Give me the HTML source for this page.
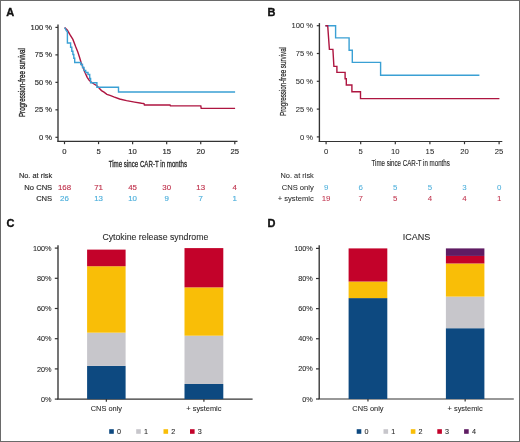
<!DOCTYPE html>
<html><head><meta charset="utf-8"><title>Figure</title>
<style>html,body{margin:0;padding:0;background:#fff;width:520px;height:442px;overflow:hidden}text{font-family:'Liberation Sans',sans-serif}</style>
</head><body>
<svg width="520" height="442" viewBox="0 0 520 442" style="display:block;will-change:transform;font-family:'Liberation Sans',sans-serif">
<rect x="0" y="0" width="520" height="442" fill="#fff"/>
<rect x="0.5" y="0.5" width="519" height="441" fill="none" stroke="#6a6a6a" stroke-width="1"/>
<text x="6.2" y="16.1" font-size="11" text-anchor="start" fill="#111" font-weight="bold" stroke="#111" stroke-width="0.35">A</text>
<text x="267.6" y="16.1" font-size="11" text-anchor="start" fill="#111" font-weight="bold" stroke="#111" stroke-width="0.35">B</text>
<text x="6.4" y="227.0" font-size="11" text-anchor="start" fill="#111" font-weight="bold" stroke="#111" stroke-width="0.35">C</text>
<text x="267.6" y="226.8" font-size="11" text-anchor="start" fill="#111" font-weight="bold" stroke="#111" stroke-width="0.35">D</text>
<path d="M58.0,24.6 V141.45" fill="none" stroke="#333333" stroke-width="1.35"/>
<path d="M57.25,141.45 H237.5" fill="none" stroke="#333333" stroke-width="1.2"/>
<path d="M55.4,27.40 H58.0" stroke="#333333" stroke-width="1.2"/>
<text x="52.0" y="30.00" font-size="7.6" text-anchor="end" fill="#2a2a2a" font-weight="normal" stroke="#2a2a2a" stroke-width="0.15">100 %</text>
<path d="M55.4,54.88 H58.0" stroke="#333333" stroke-width="1.2"/>
<text x="52.0" y="57.48" font-size="7.6" text-anchor="end" fill="#2a2a2a" font-weight="normal" stroke="#2a2a2a" stroke-width="0.15">75 %</text>
<path d="M55.4,82.35 H58.0" stroke="#333333" stroke-width="1.2"/>
<text x="52.0" y="84.95" font-size="7.6" text-anchor="end" fill="#2a2a2a" font-weight="normal" stroke="#2a2a2a" stroke-width="0.15">50 %</text>
<path d="M55.4,109.83 H58.0" stroke="#333333" stroke-width="1.2"/>
<text x="52.0" y="112.43" font-size="7.6" text-anchor="end" fill="#2a2a2a" font-weight="normal" stroke="#2a2a2a" stroke-width="0.15">25 %</text>
<path d="M55.4,137.30 H58.0" stroke="#333333" stroke-width="1.2"/>
<text x="52.0" y="139.90" font-size="7.6" text-anchor="end" fill="#2a2a2a" font-weight="normal" stroke="#2a2a2a" stroke-width="0.15">0 %</text>
<path d="M64.50,141.45 V144.14999999999998" stroke="#333333" stroke-width="1.2"/>
<text x="64.50" y="154.15" font-size="7.7" text-anchor="middle" fill="#2a2a2a" font-weight="normal" stroke="#2a2a2a" stroke-width="0.15">0</text>
<path d="M98.56,141.45 V144.14999999999998" stroke="#333333" stroke-width="1.2"/>
<text x="98.56" y="154.15" font-size="7.7" text-anchor="middle" fill="#2a2a2a" font-weight="normal" stroke="#2a2a2a" stroke-width="0.15">5</text>
<path d="M132.62,141.45 V144.14999999999998" stroke="#333333" stroke-width="1.2"/>
<text x="132.62" y="154.15" font-size="7.7" text-anchor="middle" fill="#2a2a2a" font-weight="normal" stroke="#2a2a2a" stroke-width="0.15">10</text>
<path d="M166.68,141.45 V144.14999999999998" stroke="#333333" stroke-width="1.2"/>
<text x="166.68" y="154.15" font-size="7.7" text-anchor="middle" fill="#2a2a2a" font-weight="normal" stroke="#2a2a2a" stroke-width="0.15">15</text>
<path d="M200.74,141.45 V144.14999999999998" stroke="#333333" stroke-width="1.2"/>
<text x="200.74" y="154.15" font-size="7.7" text-anchor="middle" fill="#2a2a2a" font-weight="normal" stroke="#2a2a2a" stroke-width="0.15">20</text>
<path d="M234.80,141.45 V144.14999999999998" stroke="#333333" stroke-width="1.2"/>
<text x="234.80" y="154.15" font-size="7.7" text-anchor="middle" fill="#2a2a2a" font-weight="normal" stroke="#2a2a2a" stroke-width="0.15">25</text>
<text x="147.85" y="166.60" font-size="8.9" text-anchor="middle" fill="#2a2a2a" font-weight="normal" stroke="#2a2a2a" stroke-width="0.3" textLength="78.3" lengthAdjust="spacingAndGlyphs">Time since CAR-T in months</text>
<text transform="translate(21.8,82.6) rotate(-90)" x="0" y="3.10" font-size="8.6" text-anchor="middle" fill="#2a2a2a" stroke="#2a2a2a" stroke-width="0.35" textLength="69" lengthAdjust="spacingAndGlyphs">Progression-free survival</text>
<path d="M64.60,27.60 L67.40,30.30 L70.10,34.90 L72.90,39.40 L75.60,46.60 L77.80,52.00 L79.60,57.50 L81.00,62.20 L82.60,66.50 L85.00,72.50 L87.20,77.30 L89.20,80.30 L91.30,82.20 L94.00,84.00 L97.20,86.00 L99.50,88.60 L101.50,90.60 L104.00,92.20 L106.90,94.30 L110.00,95.40 L113.80,96.90 L119.60,99.00 L126.50,100.60 L134.60,102.10 L141.50,103.30 L144.00,103.60 L144.40,105.00 L170.00,105.00 L170.40,105.90 L200.80,105.90 L201.20,108.40 L235.10,108.40" fill="none" stroke="#ae1540" stroke-width="1.4" stroke-linejoin="miter"/>
<path d="M64.70,27.60 L66.10,30.30 L67.00,31.50 L67.40,31.50 L67.40,43.00 L70.60,43.00 L70.60,47.20 L71.80,47.20 L71.80,51.20 L72.90,51.20 L72.90,54.50 L73.80,54.50 L73.80,58.20 L74.70,58.20 L74.70,62.50 L80.80,62.50 L80.80,64.50 L82.50,64.50 L82.50,67.50 L84.00,67.50 L84.00,70.50 L85.70,70.50 L85.70,72.50 L88.00,72.50 L88.00,74.50 L89.70,74.50 L89.70,78.50 L90.60,78.50 L90.60,82.80 L96.90,82.80 L96.90,87.30 L118.50,87.30 L118.50,92.00 L235.10,92.00" fill="none" stroke="#3aa0d4" stroke-width="1.4" stroke-linejoin="miter"/>
<text x="52.2" y="178.40" font-size="7.4" text-anchor="end" fill="#2a2a2a" font-weight="normal" stroke="#2a2a2a" stroke-width="0.15">No. at risk</text>
<text x="52.2" y="190.00" font-size="7.6" text-anchor="end" fill="#2a2a2a" font-weight="normal" stroke="#2a2a2a" stroke-width="0.15">No CNS</text>
<text x="64.50" y="189.60" font-size="7.9" text-anchor="middle" fill="#c0354f" font-weight="normal" stroke="#c0354f" stroke-width="0.15">168</text>
<text x="98.56" y="189.60" font-size="7.9" text-anchor="middle" fill="#c0354f" font-weight="normal" stroke="#c0354f" stroke-width="0.15">71</text>
<text x="132.62" y="189.60" font-size="7.9" text-anchor="middle" fill="#c0354f" font-weight="normal" stroke="#c0354f" stroke-width="0.15">45</text>
<text x="166.68" y="189.60" font-size="7.9" text-anchor="middle" fill="#c0354f" font-weight="normal" stroke="#c0354f" stroke-width="0.15">30</text>
<text x="200.74" y="189.60" font-size="7.9" text-anchor="middle" fill="#c0354f" font-weight="normal" stroke="#c0354f" stroke-width="0.15">13</text>
<text x="234.80" y="189.60" font-size="7.9" text-anchor="middle" fill="#c0354f" font-weight="normal" stroke="#c0354f" stroke-width="0.15">4</text>
<text x="52.2" y="200.90" font-size="7.6" text-anchor="end" fill="#2a2a2a" font-weight="normal" stroke="#2a2a2a" stroke-width="0.15">CNS</text>
<text x="64.50" y="200.50" font-size="7.9" text-anchor="middle" fill="#4fb0dc" font-weight="normal" stroke="#4fb0dc" stroke-width="0.15">26</text>
<text x="98.56" y="200.50" font-size="7.9" text-anchor="middle" fill="#4fb0dc" font-weight="normal" stroke="#4fb0dc" stroke-width="0.15">13</text>
<text x="132.62" y="200.50" font-size="7.9" text-anchor="middle" fill="#4fb0dc" font-weight="normal" stroke="#4fb0dc" stroke-width="0.15">10</text>
<text x="166.68" y="200.50" font-size="7.9" text-anchor="middle" fill="#4fb0dc" font-weight="normal" stroke="#4fb0dc" stroke-width="0.15">9</text>
<text x="200.74" y="200.50" font-size="7.9" text-anchor="middle" fill="#4fb0dc" font-weight="normal" stroke="#4fb0dc" stroke-width="0.15">7</text>
<text x="234.80" y="200.50" font-size="7.9" text-anchor="middle" fill="#4fb0dc" font-weight="normal" stroke="#4fb0dc" stroke-width="0.15">1</text>
<path d="M319.4,23.1 V141.5" fill="none" stroke="#333333" stroke-width="1.35"/>
<path d="M318.65,141.5 H502.3" fill="none" stroke="#333333" stroke-width="1.2"/>
<path d="M316.79999999999995,25.70 H319.4" stroke="#333333" stroke-width="1.2"/>
<text x="313.0" y="28.30" font-size="7.6" text-anchor="end" fill="#2a2a2a" font-weight="normal" stroke="#2a2a2a" stroke-width="0.06">100 %</text>
<path d="M316.79999999999995,53.50 H319.4" stroke="#333333" stroke-width="1.2"/>
<text x="313.0" y="56.10" font-size="7.6" text-anchor="end" fill="#2a2a2a" font-weight="normal" stroke="#2a2a2a" stroke-width="0.06">75 %</text>
<path d="M316.79999999999995,81.30 H319.4" stroke="#333333" stroke-width="1.2"/>
<text x="313.0" y="83.90" font-size="7.6" text-anchor="end" fill="#2a2a2a" font-weight="normal" stroke="#2a2a2a" stroke-width="0.06">50 %</text>
<path d="M316.79999999999995,109.10 H319.4" stroke="#333333" stroke-width="1.2"/>
<text x="313.0" y="111.70" font-size="7.6" text-anchor="end" fill="#2a2a2a" font-weight="normal" stroke="#2a2a2a" stroke-width="0.06">25 %</text>
<path d="M316.79999999999995,136.90 H319.4" stroke="#333333" stroke-width="1.2"/>
<text x="313.0" y="139.50" font-size="7.6" text-anchor="end" fill="#2a2a2a" font-weight="normal" stroke="#2a2a2a" stroke-width="0.06">0 %</text>
<path d="M326.10,141.5 V144.2" stroke="#333333" stroke-width="1.2"/>
<text x="326.10" y="154.20" font-size="7.7" text-anchor="middle" fill="#2a2a2a" font-weight="normal" stroke="#2a2a2a" stroke-width="0.06">0</text>
<path d="M360.70,141.5 V144.2" stroke="#333333" stroke-width="1.2"/>
<text x="360.70" y="154.20" font-size="7.7" text-anchor="middle" fill="#2a2a2a" font-weight="normal" stroke="#2a2a2a" stroke-width="0.06">5</text>
<path d="M395.30,141.5 V144.2" stroke="#333333" stroke-width="1.2"/>
<text x="395.30" y="154.20" font-size="7.7" text-anchor="middle" fill="#2a2a2a" font-weight="normal" stroke="#2a2a2a" stroke-width="0.06">10</text>
<path d="M429.90,141.5 V144.2" stroke="#333333" stroke-width="1.2"/>
<text x="429.90" y="154.20" font-size="7.7" text-anchor="middle" fill="#2a2a2a" font-weight="normal" stroke="#2a2a2a" stroke-width="0.06">15</text>
<path d="M464.50,141.5 V144.2" stroke="#333333" stroke-width="1.2"/>
<text x="464.50" y="154.20" font-size="7.7" text-anchor="middle" fill="#2a2a2a" font-weight="normal" stroke="#2a2a2a" stroke-width="0.06">20</text>
<path d="M499.10,141.5 V144.2" stroke="#333333" stroke-width="1.2"/>
<text x="499.10" y="154.20" font-size="7.7" text-anchor="middle" fill="#2a2a2a" font-weight="normal" stroke="#2a2a2a" stroke-width="0.06">25</text>
<text x="410.65" y="166.30" font-size="8.9" text-anchor="middle" fill="#2a2a2a" font-weight="normal" stroke="#2a2a2a" stroke-width="0.15" textLength="78.3" lengthAdjust="spacingAndGlyphs">Time since CAR-T in months</text>
<text transform="translate(283.0,81.5) rotate(-90)" x="0" y="2.95" font-size="8.2" text-anchor="middle" fill="#2a2a2a" stroke="#2a2a2a" stroke-width="0.22" textLength="69" lengthAdjust="spacingAndGlyphs">Progression-free survival</text>
<path d="M325.40,25.70 L335.60,25.70 L335.60,37.90 L349.10,37.90 L349.10,50.30 L352.30,50.30 L352.30,62.40 L380.60,62.40 L380.60,75.20 L479.40,75.20" fill="none" stroke="#3aa0d4" stroke-width="1.4" stroke-linejoin="miter"/>
<path d="M325.40,25.70 L327.70,25.70 L329.40,49.40 L332.90,49.40 L333.90,66.40 L336.90,66.40 L336.90,72.40 L345.10,72.40 L345.10,78.80 L346.30,78.80 L346.30,85.00 L351.90,85.00 L351.90,91.80 L360.50,91.80 L360.50,98.60 L499.40,98.60" fill="none" stroke="#ae1540" stroke-width="1.4" stroke-linejoin="miter"/>
<text x="313.8" y="178.40" font-size="7.4" text-anchor="end" fill="#2a2a2a" font-weight="normal" stroke="#2a2a2a" stroke-width="0.06">No. at risk</text>
<text x="313.8" y="189.90" font-size="7.6" text-anchor="end" fill="#2a2a2a" font-weight="normal" stroke="#2a2a2a" stroke-width="0.06">CNS only</text>
<text x="326.10" y="190.10" font-size="7.9" text-anchor="middle" fill="#4fb0dc" font-weight="normal" stroke="#4fb0dc" stroke-width="0.06">9</text>
<text x="360.70" y="190.10" font-size="7.9" text-anchor="middle" fill="#4fb0dc" font-weight="normal" stroke="#4fb0dc" stroke-width="0.06">6</text>
<text x="395.30" y="190.10" font-size="7.9" text-anchor="middle" fill="#4fb0dc" font-weight="normal" stroke="#4fb0dc" stroke-width="0.06">5</text>
<text x="429.90" y="190.10" font-size="7.9" text-anchor="middle" fill="#4fb0dc" font-weight="normal" stroke="#4fb0dc" stroke-width="0.06">5</text>
<text x="464.50" y="190.10" font-size="7.9" text-anchor="middle" fill="#4fb0dc" font-weight="normal" stroke="#4fb0dc" stroke-width="0.06">3</text>
<text x="499.10" y="190.10" font-size="7.9" text-anchor="middle" fill="#4fb0dc" font-weight="normal" stroke="#4fb0dc" stroke-width="0.06">0</text>
<text x="313.8" y="200.70" font-size="7.6" text-anchor="end" fill="#2a2a2a" font-weight="normal" stroke="#2a2a2a" stroke-width="0.06">+ systemic</text>
<text x="326.10" y="200.90" font-size="7.9" text-anchor="middle" fill="#c0354f" font-weight="normal" stroke="#c0354f" stroke-width="0.06">19</text>
<text x="360.70" y="200.90" font-size="7.9" text-anchor="middle" fill="#c0354f" font-weight="normal" stroke="#c0354f" stroke-width="0.06">7</text>
<text x="395.30" y="200.90" font-size="7.9" text-anchor="middle" fill="#c0354f" font-weight="normal" stroke="#c0354f" stroke-width="0.06">5</text>
<text x="429.90" y="200.90" font-size="7.9" text-anchor="middle" fill="#c0354f" font-weight="normal" stroke="#c0354f" stroke-width="0.06">4</text>
<text x="464.50" y="200.90" font-size="7.9" text-anchor="middle" fill="#c0354f" font-weight="normal" stroke="#c0354f" stroke-width="0.06">4</text>
<text x="499.10" y="200.90" font-size="7.9" text-anchor="middle" fill="#c0354f" font-weight="normal" stroke="#c0354f" stroke-width="0.06">1</text>
<path d="M58.0,245.3 V399.1" fill="none" stroke="#333333" stroke-width="1.35"/>
<path d="M57.25,399.1 H252.6" fill="none" stroke="#333333" stroke-width="1.2"/>
<path d="M54.8,399.10 H58.0" stroke="#333333" stroke-width="1.2"/>
<text x="51.6" y="401.70" font-size="7.3" text-anchor="end" fill="#2a2a2a" font-weight="normal" stroke="#2a2a2a" stroke-width="0.08">0%</text>
<path d="M54.8,368.90 H58.0" stroke="#333333" stroke-width="1.2"/>
<text x="51.6" y="371.50" font-size="7.3" text-anchor="end" fill="#2a2a2a" font-weight="normal" stroke="#2a2a2a" stroke-width="0.08">20%</text>
<path d="M54.8,338.70 H58.0" stroke="#333333" stroke-width="1.2"/>
<text x="51.6" y="341.30" font-size="7.3" text-anchor="end" fill="#2a2a2a" font-weight="normal" stroke="#2a2a2a" stroke-width="0.08">40%</text>
<path d="M54.8,308.50 H58.0" stroke="#333333" stroke-width="1.2"/>
<text x="51.6" y="311.10" font-size="7.3" text-anchor="end" fill="#2a2a2a" font-weight="normal" stroke="#2a2a2a" stroke-width="0.08">60%</text>
<path d="M54.8,278.30 H58.0" stroke="#333333" stroke-width="1.2"/>
<text x="51.6" y="280.90" font-size="7.3" text-anchor="end" fill="#2a2a2a" font-weight="normal" stroke="#2a2a2a" stroke-width="0.08">80%</text>
<path d="M54.8,248.10 H58.0" stroke="#333333" stroke-width="1.2"/>
<text x="51.6" y="250.70" font-size="7.3" text-anchor="end" fill="#2a2a2a" font-weight="normal" stroke="#2a2a2a" stroke-width="0.08">100%</text>
<rect x="87.1" y="365.88" width="38.50" height="33.22" fill="#0d4980"/>
<rect x="87.1" y="332.66" width="38.50" height="33.22" fill="#c7c6cb"/>
<rect x="87.1" y="266.22" width="38.50" height="66.44" fill="#f9be07"/>
<rect x="87.1" y="249.61" width="38.50" height="16.61" fill="#c3022a"/>
<path d="M106.35,399.1 V401.70000000000005" stroke="#333333" stroke-width="1.2"/>
<text x="106.35" y="411.20" font-size="7.4" text-anchor="middle" fill="#2a2a2a" font-weight="normal" stroke="#2a2a2a" stroke-width="0.08">CNS only</text>
<rect x="184.5" y="384.00" width="38.80" height="15.10" fill="#0d4980"/>
<rect x="184.5" y="335.68" width="38.80" height="48.32" fill="#c7c6cb"/>
<rect x="184.5" y="287.36" width="38.80" height="48.32" fill="#f9be07"/>
<rect x="184.5" y="248.10" width="38.80" height="39.26" fill="#c3022a"/>
<path d="M203.90,399.1 V401.70000000000005" stroke="#333333" stroke-width="1.2"/>
<text x="203.90" y="411.20" font-size="7.4" text-anchor="middle" fill="#2a2a2a" font-weight="normal" stroke="#2a2a2a" stroke-width="0.08">+ systemic</text>
<text x="155.40" y="240.20" font-size="8.75" text-anchor="middle" fill="#2a2a2a" font-weight="normal" stroke="#2a2a2a" stroke-width="0.08">Cytokine release syndrome</text>
<rect x="109.2" y="429.2" width="4.6" height="4.6" fill="#0d4980"/>
<text x="117.00" y="434.1" font-size="7.2" text-anchor="start" fill="#2a2a2a" font-weight="normal" stroke="#2a2a2a" stroke-width="0.08">0</text>
<rect x="136.2" y="429.2" width="4.6" height="4.6" fill="#c7c6cb"/>
<text x="144.00" y="434.1" font-size="7.2" text-anchor="start" fill="#2a2a2a" font-weight="normal" stroke="#2a2a2a" stroke-width="0.08">1</text>
<rect x="163.5" y="429.2" width="4.6" height="4.6" fill="#f9be07"/>
<text x="171.30" y="434.1" font-size="7.2" text-anchor="start" fill="#2a2a2a" font-weight="normal" stroke="#2a2a2a" stroke-width="0.08">2</text>
<rect x="190.0" y="429.2" width="4.6" height="4.6" fill="#c3022a"/>
<text x="197.80" y="434.1" font-size="7.2" text-anchor="start" fill="#2a2a2a" font-weight="normal" stroke="#2a2a2a" stroke-width="0.08">3</text>
<path d="M319.2,245.3 V399.0" fill="none" stroke="#333333" stroke-width="1.35"/>
<path d="M318.45,399.0 H513.8" fill="none" stroke="#333333" stroke-width="1.2"/>
<path d="M316.0,399.00 H319.2" stroke="#333333" stroke-width="1.2"/>
<text x="312.8" y="401.60" font-size="7.3" text-anchor="end" fill="#2a2a2a" font-weight="normal" stroke="#2a2a2a" stroke-width="0.08">0%</text>
<path d="M316.0,368.88 H319.2" stroke="#333333" stroke-width="1.2"/>
<text x="312.8" y="371.48" font-size="7.3" text-anchor="end" fill="#2a2a2a" font-weight="normal" stroke="#2a2a2a" stroke-width="0.08">20%</text>
<path d="M316.0,338.76 H319.2" stroke="#333333" stroke-width="1.2"/>
<text x="312.8" y="341.36" font-size="7.3" text-anchor="end" fill="#2a2a2a" font-weight="normal" stroke="#2a2a2a" stroke-width="0.08">40%</text>
<path d="M316.0,308.64 H319.2" stroke="#333333" stroke-width="1.2"/>
<text x="312.8" y="311.24" font-size="7.3" text-anchor="end" fill="#2a2a2a" font-weight="normal" stroke="#2a2a2a" stroke-width="0.08">60%</text>
<path d="M316.0,278.52 H319.2" stroke="#333333" stroke-width="1.2"/>
<text x="312.8" y="281.12" font-size="7.3" text-anchor="end" fill="#2a2a2a" font-weight="normal" stroke="#2a2a2a" stroke-width="0.08">80%</text>
<path d="M316.0,248.40 H319.2" stroke="#333333" stroke-width="1.2"/>
<text x="312.8" y="251.00" font-size="7.3" text-anchor="end" fill="#2a2a2a" font-weight="normal" stroke="#2a2a2a" stroke-width="0.08">100%</text>
<rect x="348.6" y="298.10" width="38.70" height="100.90" fill="#0d4980"/>
<rect x="348.6" y="281.53" width="38.70" height="16.57" fill="#f9be07"/>
<rect x="348.6" y="248.40" width="38.70" height="33.13" fill="#c3022a"/>
<path d="M367.95,399.0 V401.6" stroke="#333333" stroke-width="1.2"/>
<text x="367.95" y="411.10" font-size="7.4" text-anchor="middle" fill="#2a2a2a" font-weight="normal" stroke="#2a2a2a" stroke-width="0.08">CNS only</text>
<rect x="445.9" y="328.22" width="38.50" height="70.78" fill="#0d4980"/>
<rect x="445.9" y="296.59" width="38.50" height="31.63" fill="#c7c6cb"/>
<rect x="445.9" y="263.46" width="38.50" height="33.13" fill="#f9be07"/>
<rect x="445.9" y="255.93" width="38.50" height="7.53" fill="#c3022a"/>
<rect x="445.9" y="248.40" width="38.50" height="7.53" fill="#5f1c63"/>
<path d="M465.15,399.0 V401.6" stroke="#333333" stroke-width="1.2"/>
<text x="465.15" y="411.10" font-size="7.4" text-anchor="middle" fill="#2a2a2a" font-weight="normal" stroke="#2a2a2a" stroke-width="0.08">+ systemic</text>
<text x="416.40" y="240.10" font-size="9.0" text-anchor="middle" fill="#2a2a2a" font-weight="normal" stroke="#2a2a2a" stroke-width="0.08">ICANS</text>
<rect x="356.7" y="429.2" width="4.6" height="4.6" fill="#0d4980"/>
<text x="364.50" y="434.1" font-size="7.2" text-anchor="start" fill="#2a2a2a" font-weight="normal" stroke="#2a2a2a" stroke-width="0.08">0</text>
<rect x="383.5" y="429.2" width="4.6" height="4.6" fill="#c7c6cb"/>
<text x="391.30" y="434.1" font-size="7.2" text-anchor="start" fill="#2a2a2a" font-weight="normal" stroke="#2a2a2a" stroke-width="0.08">1</text>
<rect x="410.8" y="429.2" width="4.6" height="4.6" fill="#f9be07"/>
<text x="418.60" y="434.1" font-size="7.2" text-anchor="start" fill="#2a2a2a" font-weight="normal" stroke="#2a2a2a" stroke-width="0.08">2</text>
<rect x="437.3" y="429.2" width="4.6" height="4.6" fill="#c3022a"/>
<text x="445.10" y="434.1" font-size="7.2" text-anchor="start" fill="#2a2a2a" font-weight="normal" stroke="#2a2a2a" stroke-width="0.08">3</text>
<rect x="464.1" y="429.2" width="4.6" height="4.6" fill="#5f1c63"/>
<text x="471.90" y="434.1" font-size="7.2" text-anchor="start" fill="#2a2a2a" font-weight="normal" stroke="#2a2a2a" stroke-width="0.08">4</text>
</svg>
</body></html>
